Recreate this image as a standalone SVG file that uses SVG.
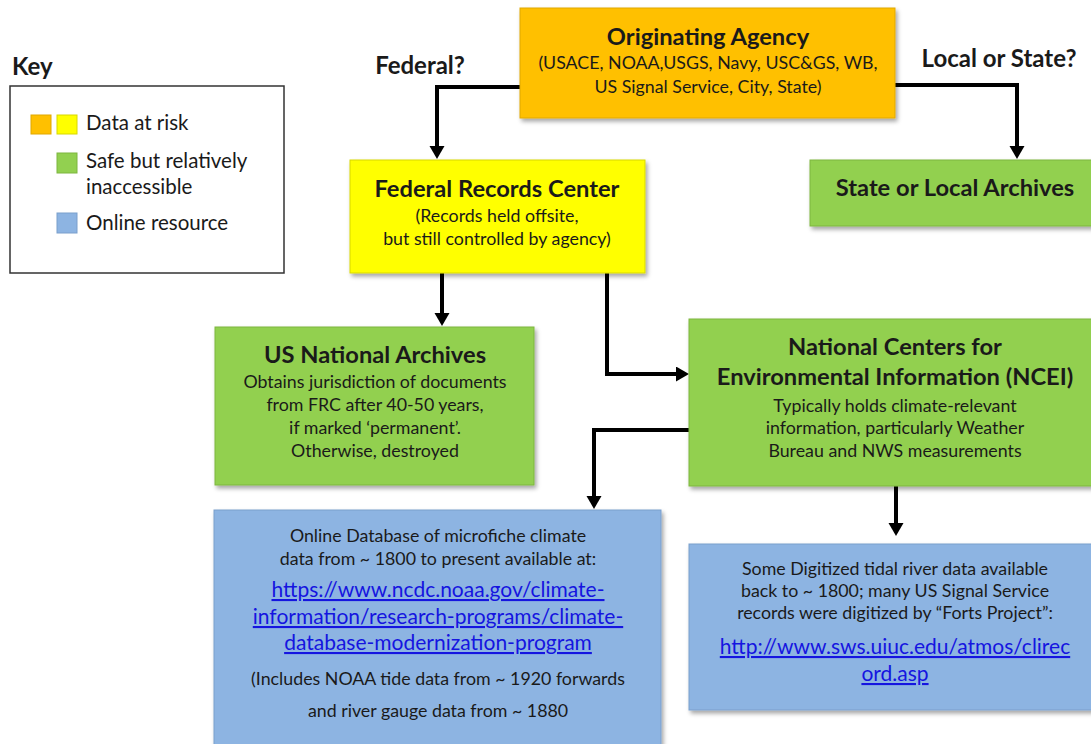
<svg xmlns="http://www.w3.org/2000/svg" width="1091" height="744" viewBox="0 0 1091 744">
<style>
text{font-family:Lato,"Open Sans","Liberation Sans",sans-serif;fill:#1a1a1a;text-anchor:middle}
.t{font-size:23.7px;font-weight:bold}
.s{font-size:17.8px}
.k{font-size:20.5px;text-anchor:start}
.l{font-size:21px;fill:#1515e0;text-decoration:underline}
.lbl{font-size:24px;font-weight:bold}
.conn{fill:none;stroke:#000;stroke-width:4}
.orange{fill:#FFC000;stroke:#e0a800;stroke-width:1}
.yellow{fill:#FFFF00;stroke:#d8d800;stroke-width:1}
.green{fill:#92D050;stroke:#7db63f;stroke-width:1}
.blue{fill:#8DB4E2;stroke:#7a9fcc;stroke-width:1}
</style>
<defs>
<filter id="sh" x="-5%" y="-5%" width="112%" height="120%">
<feDropShadow dx="2" dy="3" stdDeviation="2" flood-color="#000" flood-opacity="0.35"/>
</filter>
<marker id="ah" markerUnits="userSpaceOnUse" markerWidth="14" markerHeight="16" refX="2" refY="7.5" orient="auto" viewBox="0 0 14 16">
<path d="M0,0 L13,7.5 L0,15 z" fill="#000"/>
</marker>
</defs>
<rect width="1091" height="744" fill="#fff"/>

<g id="key">
<text class="lbl" x="12" y="75" style="text-anchor:start">Key</text>
<rect x="10" y="86" width="274" height="187" fill="#fff" stroke="#333" stroke-width="1.5"/>
<rect x="31" y="115" width="20" height="19" class="orange"/>
<rect x="57" y="115" width="20" height="19" class="yellow"/>
<rect x="57" y="153" width="20" height="20" class="green"/>
<rect x="57" y="213" width="20" height="20" class="blue"/>
<text class="k" x="86" y="130">Data at risk</text>
<text class="k" x="86" y="168">Safe but relatively</text>
<text class="k" x="86" y="194">inaccessible</text>
<text class="k" x="86" y="230">Online resource</text>
</g>

<g id="labels">
<text class="lbl" x="420" y="74">Federal?</text>
<text class="lbl" x="999" y="67">Local or State?</text>
</g>

<g id="connectors">
<path class="conn" d="M520,87 H437 V148" marker-end="url(#ah)"/>
<path class="conn" d="M895,85 H1017 V148" marker-end="url(#ah)"/>
<path class="conn" d="M442,273 V315" marker-end="url(#ah)"/>
<path class="conn" d="M607,273 V374 H678" marker-end="url(#ah)"/>
<path class="conn" d="M689,430 H594 V498" marker-end="url(#ah)"/>
<path class="conn" d="M896,486 V525" marker-end="url(#ah)"/>
</g>

<g id="originating">
<rect x="520" y="8" width="375" height="110" class="orange" filter="url(#sh)"/>
<text class="t" x="708" y="45">Originating Agency</text>
<text class="s" x="708" y="69">(USACE, NOAA,USGS, Navy, USC&amp;GS, WB,</text>
<text class="s" x="708" y="93">US Signal Service, City, State)</text>
</g>

<g id="frc">
<rect x="350" y="160" width="295" height="113" class="yellow" filter="url(#sh)"/>
<text class="t" x="497" y="197">Federal Records Center</text>
<text class="s" x="497" y="222">(Records held offsite,</text>
<text class="s" x="497" y="245">but still controlled by agency)</text>
</g>

<g id="state">
<rect x="810" y="160" width="290" height="66" class="green" filter="url(#sh)"/>
<text class="t" x="955" y="196">State or Local Archives</text>
</g>

<g id="usna">
<rect x="215" y="327" width="319" height="158" class="green" filter="url(#sh)"/>
<text class="t" x="375" y="363">US National Archives</text>
<text class="s" x="375" y="388">Obtains jurisdiction of documents</text>
<text class="s" x="375" y="411">from FRC after 40-50 years,</text>
<text class="s" x="375" y="434">if marked ‘permanent’.</text>
<text class="s" x="375" y="457">Otherwise, destroyed</text>
</g>

<g id="ncei">
<rect x="689" y="319" width="410" height="167" class="green" filter="url(#sh)"/>
<text class="t" x="895" y="355">National Centers for</text>
<text class="t" x="895" y="385">Environmental Information (NCEI)</text>
<text class="s" x="895" y="412">Typically holds climate-relevant</text>
<text class="s" x="895" y="434">information, particularly Weather</text>
<text class="s" x="895" y="457">Bureau and NWS measurements</text>
</g>

<g id="online-db">
<rect x="214" y="510" width="447" height="245" class="blue" filter="url(#sh)"/>
<text class="s" x="438" y="542">Online Database of microfiche climate</text>
<text class="s" x="438" y="565">data from ~ 1800 to present available at:</text>
<text class="l" x="438" y="597">https://www.ncdc.noaa.gov/climate-</text>
<text class="l" x="438" y="624">information/research-programs/climate-</text>
<text class="l" x="438" y="650">database-modernization-program</text>
<text class="s" x="438" y="685">(Includes NOAA tide data from ~ 1920 forwards</text>
<text class="s" x="438" y="717">and river gauge data from ~ 1880</text>
</g>

<g id="digitized">
<rect x="689" y="544" width="410" height="166" class="blue" filter="url(#sh)"/>
<text class="s" x="895" y="575">Some Digitized tidal river data available</text>
<text class="s" x="895" y="597">back to ~ 1800; many US Signal Service</text>
<text class="s" x="895" y="619">records were digitized by “Forts Project”:</text>
<text class="l" x="895" y="654">http://www.sws.uiuc.edu/atmos/clirec</text>
<text class="l" x="895" y="681">ord.asp</text>
</g>
</svg>
